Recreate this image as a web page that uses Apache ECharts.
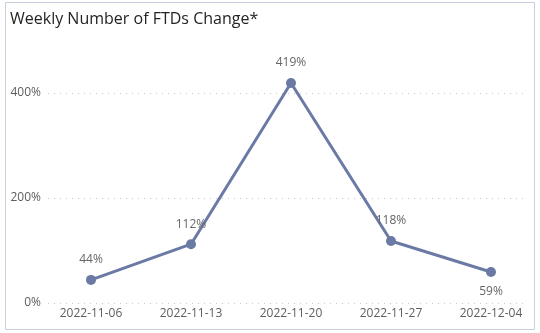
<!DOCTYPE html>
<html><head><meta charset="utf-8">
<script src="https://cdn.jsdelivr.net/npm/echarts@6/dist/echarts.min.js"></script>
<style>html,body{margin:0;padding:0;background:#fff}#c{width:540px;height:333px}</style>
</head><body><div id="c"></div>
<script>
var categories = ['2022-11-06','2022-11-13','2022-11-20','2022-11-27','2022-12-04'];
var changePct = [44, 112, 419, 118, 59];
var labelPos = ['top','top','top','top','bottom'];
var yTicks = [0, 200, 400];

var chart = echarts.init(document.getElementById('c'), null, {renderer:'canvas'});
var font = "'Segoe UI','Open Sans',sans-serif";
chart.setOption({
  animation:false,
  title:{text:'Weekly Number of FTDs Change*', left:5, top:6,
    textStyle:{fontFamily:font, fontSize:16, fontWeight:'normal', color:'#252423'}},
  graphic:[{type:'rect', shape:{x:5.5,y:2.5,width:529,height:327},
    style:{fill:'none', stroke:'#c8d0e0', lineWidth:1}, silent:true, z:-1}],
  grid:[{left:48, right:13, top:93, bottom:30},
        {left:91, right:49, top:93, bottom:30}],
  xAxis:[
    {gridIndex:0, type:'category', data:categories, show:false},
    {gridIndex:1, type:'category', data:categories, boundaryGap:false,
     axisLine:{show:false}, axisTick:{show:false},
     axisLabel:{margin:5, fontFamily:font, fontSize:12, color:'#605e5c'}}
  ],
  yAxis:[
    {gridIndex:0, type:'value', min:yTicks[0], max:yTicks[yTicks.length-1], interval:200,
     axisLine:{show:false}, axisTick:{show:false},
     axisLabel:{margin:7, fontFamily:font, fontSize:12, color:'#605e5c', formatter:'{value}%'},
     splitLine:{show:true, lineStyle:{color:'#c8c8c8', type:[1,5], width:1}}},
    {gridIndex:1, type:'value', min:0, max:400, show:false, splitLine:{show:false}}
  ],
  series:[{
    type:'line', xAxisIndex:1, yAxisIndex:1, clip:false,
    data:changePct.map(function(v,i){return {value:v, label:{position:labelPos[i]}};}),
    symbol:'circle', symbolSize:10,
    lineStyle:{color:'#6b79a5', width:3},
    itemStyle:{color:'#6b79a5'},
    label:{show:true, distance:9, formatter:'{c}%', fontFamily:font, fontSize:12, color:'#666666'}
  }]
});
</script></body></html>
